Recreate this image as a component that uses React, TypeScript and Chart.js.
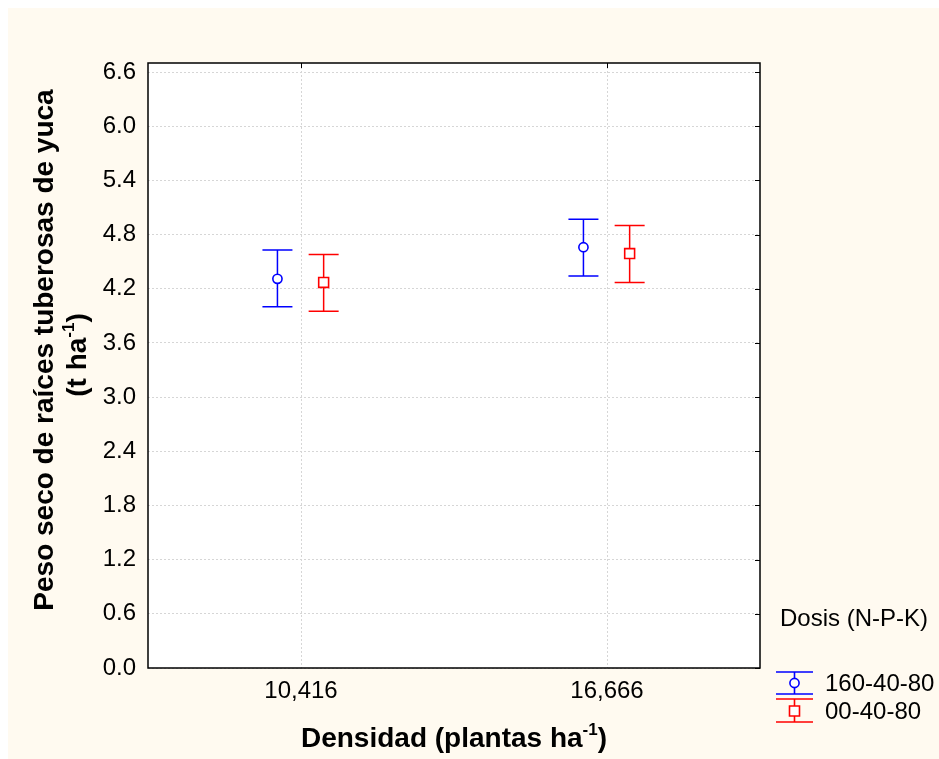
import React, { useEffect, useRef } from "react";
import { Chart, registerables } from "chart.js";

Chart.register(...registerables);

// ---- data ----
const categories = ["10,416", "16,666"];
const seriesNames = ["160-40-80", "00-40-80"];
const seriesColors = ["#0000ff", "#ff0000"];
const seriesMarkers = ["circle", "rect"];
const meanA = [4.31, 4.66];
const upperA = [4.63, 4.97];
const lowerA = [4.0, 4.34];
const meanB = [4.27, 4.59];
const upperB = [4.58, 4.9];
const lowerB = [3.95, 4.27];
const yTicks = [0, 0.6, 1.2, 1.8, 2.4, 3.0, 3.6, 4.2, 4.8, 5.4, 6.0, 6.6];
const groupOffset = [-0.077, 0.074];
const yMax = 6.7;
const yTitle1 = "Peso seco de raíces tuberosas de yuca";
const yTitle2 = ["(t ha", "-1", ")"];
const xTitle = ["Densidad (plantas ha", "-1", ")"];
const legendTitle = "Dosis (N-P-K)";

const means = [meanA, meanB];
const uppers = [upperA, upperB];
const lowers = [lowerA, lowerB];

const FONT = "Arial, 'Liberation Sans', sans-serif";

function drawMarker(ctx: CanvasRenderingContext2D, kind: string, x: number, y: number, color: string) {
  ctx.save();
  ctx.fillStyle = "#ffffff";
  ctx.strokeStyle = color;
  ctx.lineWidth = 1.6;
  ctx.beginPath();
  if (kind === "circle") {
    ctx.arc(x, y, 4.6, 0, Math.PI * 2);
  } else {
    ctx.rect(x - 5, y - 5, 10, 10);
  }
  ctx.fill();
  ctx.stroke();
  ctx.restore();
}

function drawSupText(
  ctx: CanvasRenderingContext2D,
  parts: string[],
  cx: number,
  baseline: number,
  size: number
) {
  const big = `bold ${size}px ${FONT}`;
  const small = `bold ${Math.round(size * 0.62)}px ${FONT}`;
  ctx.font = big;
  const w0 = ctx.measureText(parts[0]).width;
  const w2 = ctx.measureText(parts[2]).width;
  ctx.font = small;
  const w1 = ctx.measureText(parts[1]).width;
  const total = w0 + w1 + w2;
  let x = cx - total / 2;
  ctx.textAlign = "left";
  ctx.textBaseline = "alphabetic";
  ctx.font = big;
  ctx.fillText(parts[0], x, baseline);
  x += w0;
  ctx.font = small;
  ctx.fillText(parts[1], x, baseline - size * 0.42);
  x += w1;
  ctx.font = big;
  ctx.fillText(parts[2], x, baseline);
}

const customPlugin = {
  id: "custom",
  beforeDraw(chart: any) {
    const { ctx, chartArea } = chart;
    ctx.save();
    ctx.fillStyle = "#ffffff";
    ctx.fillRect(chartArea.left, chartArea.top, chartArea.right - chartArea.left, chartArea.bottom - chartArea.top);
    ctx.restore();
  },
  beforeDatasetsDraw(chart: any) {
    const { ctx } = chart;
    const xs = chart.scales.x;
    const ys = chart.scales.y;
    ctx.save();
    ctx.lineWidth = 1.5;
    for (let s = 0; s < seriesNames.length; s++) {
      ctx.strokeStyle = seriesColors[s];
      for (let i = 0; i < categories.length; i++) {
        const x = xs.getPixelForValue(i + 1 + groupOffset[s]);
        const yt = ys.getPixelForValue(uppers[s][i]);
        const yb = ys.getPixelForValue(lowers[s][i]);
        ctx.beginPath();
        ctx.moveTo(x, yt);
        ctx.lineTo(x, yb);
        ctx.moveTo(x - 15, yt);
        ctx.lineTo(x + 15, yt);
        ctx.moveTo(x - 15, yb);
        ctx.lineTo(x + 15, yb);
        ctx.stroke();
      }
    }
    ctx.restore();
  },
  afterDraw(chart: any) {
    const { ctx, chartArea } = chart;
    const xs = chart.scales.x;
    const ys = chart.scales.y;
    ctx.save();
    // frame
    ctx.strokeStyle = "#000000";
    ctx.lineWidth = 1.5;
    ctx.strokeRect(chartArea.left, chartArea.top, chartArea.right - chartArea.left, chartArea.bottom - chartArea.top);
    // inward ticks right & top
    ctx.lineWidth = 1;
    ctx.beginPath();
    for (const v of yTicks) {
      const y = Math.round(ys.getPixelForValue(v)) + 0.5;
      ctx.moveTo(chartArea.right, y);
      ctx.lineTo(chartArea.right - 5, y);
    }
    for (let i = 0; i < categories.length; i++) {
      const x = Math.round(xs.getPixelForValue(i + 1)) + 0.5;
      ctx.moveTo(x, chartArea.top);
      ctx.lineTo(x, chartArea.top + 5);
    }
    ctx.stroke();

    // axis titles
    ctx.fillStyle = "#000000";
    drawSupText(ctx, xTitle, 446, 739, 28);

    ctx.save();
    ctx.translate(45, 342);
    ctx.rotate(-Math.PI / 2);
    ctx.font = `bold 28px ${FONT}`;
    ctx.textAlign = "center";
    ctx.textBaseline = "alphabetic";
    ctx.fillText(yTitle1, 0, 0);
    ctx.restore();

    ctx.save();
    ctx.translate(78, 347);
    ctx.rotate(-Math.PI / 2);
    drawSupText(ctx, yTitle2, 0, 0, 28);
    ctx.restore();

    // legend
    ctx.font = `24px ${FONT}`;
    ctx.fillStyle = "#000000";
    ctx.textAlign = "left";
    ctx.textBaseline = "middle";
    ctx.fillText(legendTitle, 772, 611);
    const rows = [
      { cy: 675, top: 664, bot: 686 },
      { cy: 703, top: 691, bot: 714 },
    ];
    for (let s = 0; s < seriesNames.length; s++) {
      const r = rows[s];
      const lx = 786.5;
      ctx.strokeStyle = seriesColors[s];
      ctx.lineWidth = 1.6;
      ctx.beginPath();
      ctx.moveTo(lx, r.top);
      ctx.lineTo(lx, r.bot);
      ctx.moveTo(lx - 18.5, r.top);
      ctx.lineTo(lx + 18.5, r.top);
      ctx.moveTo(lx - 18.5, r.bot);
      ctx.lineTo(lx + 18.5, r.bot);
      ctx.stroke();
      drawMarker(ctx, seriesMarkers[s], lx, r.cy, seriesColors[s]);
      ctx.fillStyle = "#000000";
      ctx.font = `24px ${FONT}`;
      ctx.textBaseline = "middle";
      ctx.fillText(seriesNames[s], 817, r.cy + 1);
    }
    ctx.restore();
  },
};

export default function App() {
  const ref = useRef<HTMLCanvasElement | null>(null);
  useEffect(() => {
    if (!ref.current) return;
    const datasets = seriesNames.map((name, s) => ({
      label: name,
      data: categories.map((_, i) => ({ x: i + 1 + groupOffset[s], y: means[s][i] })),
      pointStyle: seriesMarkers[s],
      pointRadius: s === 0 ? 4.6 : 7,
      pointBackgroundColor: "#ffffff",
      pointBorderColor: seriesColors[s],
      pointBorderWidth: 1.6,
      showLine: false,
    }));
    const chart = new Chart(ref.current, {
      type: "scatter",
      data: { datasets } as any,
      options: {
        animation: false,
        responsive: false,
        events: [],
        layout: { padding: { top: 55, right: 179, left: 0, bottom: 0 } },
        plugins: { legend: { display: false }, tooltip: { enabled: false } },
        scales: {
          x: {
            type: "linear",
            min: 0.5,
            max: 2.5,
            afterBuildTicks: (scale: any) => {
              scale.ticks = categories.map((_, i) => ({ value: i + 1 }));
            },
            afterFit: (scale: any) => {
              scale.height = 91;
            },
            ticks: {
              callback: (v: any) => categories[Math.round(Number(v)) - 1] ?? "",
              color: "#000000",
              font: { family: FONT, size: 24 },
              padding: 9,
              maxRotation: 0,
            },
            grid: { color: "#d6d6d6", lineWidth: 1, drawTicks: false },
            border: { display: false, dash: [2, 2] },
          },
          y: {
            type: "linear",
            min: 0,
            max: yMax,
            afterBuildTicks: (scale: any) => {
              scale.ticks = yTicks.map((v) => ({ value: v }));
            },
            afterFit: (scale: any) => {
              scale.width = 140;
            },
            ticks: {
              callback: (v: any) => Number(v).toFixed(1),
              color: "#000000",
              font: { family: FONT, size: 24 },
              padding: 12,
            },
            grid: { color: "#d6d6d6", lineWidth: 1, drawTicks: false },
            border: { display: false, dash: [2, 2] },
          },
        },
      } as any,
      plugins: [customPlugin],
    });
    return () => chart.destroy();
  }, []);
  return (
    <div
      style={{
        position: "fixed",
        left: 8,
        top: 8,
        width: 931,
        height: 751,
        background: "#fffaf0",
      }}
    >
      <canvas ref={ref} width={931} height={751} style={{ display: "block" }} />
    </div>
  );
}
